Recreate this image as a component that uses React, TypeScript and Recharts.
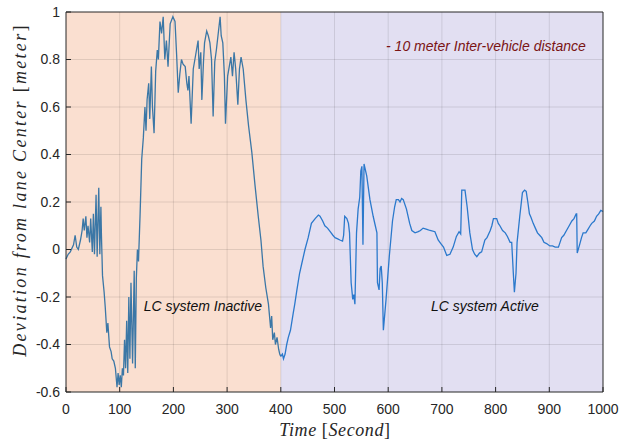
import React from 'react';
import { LineChart, Line, XAxis, YAxis, ReferenceArea, ReferenceLine, ReferenceDot } from 'recharts';

// LC system inactive (0 - 400 s)
const inactiveTime = [
	0, 4, 8, 10, 14, 17, 20, 23, 27, 30, 32, 34, 37, 39, 41, 44, 46, 49, 51, 53, 56, 58, 61, 63, 65, 66, 68, 71, 73, 76, 78, 81, 84, 86, 89, 92, 95, 97,
	99, 101, 103, 105, 107, 109, 111, 113, 115, 117, 119, 121, 124, 127, 129, 131, 133, 135, 138, 141, 144, 147, 149, 151, 154, 156, 159, 161, 164,
	167, 170, 172, 175, 178, 181, 184, 187, 190, 194, 199, 203, 206, 209, 212, 215, 218, 222, 225, 227, 229, 233, 237, 240, 243, 246, 248, 251, 253,
	256, 258, 262, 265, 268, 271, 274, 277, 280, 284, 287, 289, 292, 295, 297, 301, 304, 307, 310, 313, 316, 320, 323, 326, 330, 335, 340, 346, 352,
	358, 363, 367, 372, 377, 381, 383, 385, 388, 390, 393, 396, 398, 400,
];
const inactiveDev = [
	-0.04, -0.02, -0.01, 0.0, 0.02, 0.06, 0.01, 0.0, 0.04, 0.08, 0.13, 0.08, 0.14, 0.05, 0.1, 0.03, 0.13, -0.01, 0.15, -0.02, 0.23, -0.03, 0.26, -0.02,
	0.18, 0.06, -0.11, -0.18, -0.24, -0.35, -0.31, -0.41, -0.43, -0.46, -0.47, -0.5, -0.58, -0.52, -0.57, -0.53, -0.58, -0.5, -0.53, -0.38, -0.5, -0.3,
	-0.52, -0.2, -0.46, -0.14, -0.48, -0.09, -0.5, -0.12, 0.0, -0.05, 0.15, 0.38, 0.47, 0.6, 0.5, 0.63, 0.7, 0.55, 0.77, 0.6, 0.49, 0.75, 0.84, 0.8,
	0.96, 0.91, 0.98, 0.8, 0.88, 0.77, 0.95, 0.98, 0.96, 0.82, 0.66, 0.74, 0.8, 0.78, 0.77, 0.7, 0.67, 0.73, 0.53, 0.76, 0.8, 0.84, 0.88, 0.76, 0.83,
	0.63, 0.79, 0.87, 0.92, 0.9, 0.87, 0.8, 0.56, 0.79, 0.84, 0.92, 0.98, 0.9, 0.87, 0.73, 0.53, 0.73, 0.77, 0.81, 0.73, 0.83, 0.76, 0.61, 0.76, 0.81,
	0.76, 0.63, 0.52, 0.41, 0.27, 0.14, 0.04, -0.07, -0.16, -0.23, -0.33, -0.28, -0.38, -0.35, -0.4, -0.37, -0.42, -0.44, -0.45,
];

// LC system active (400 - 1000 s)
const activeTime = [
	400, 403, 405, 408, 411, 414, 418, 423, 426, 430, 435, 439, 445, 451, 457, 464, 470, 473, 478, 482, 487, 492, 497, 501, 506, 510, 515, 517, 519,
	523, 526, 528, 531, 534, 536, 538, 541, 544, 547, 549, 551, 553, 555, 560, 566, 572, 576, 579, 580, 583, 585, 587, 589, 591, 596, 602, 608, 612,
	615, 619, 622, 625, 628, 634, 640, 644, 650, 656, 660, 665, 672, 678, 687, 693, 698, 703, 709, 715, 721, 727, 732, 735, 737, 743, 747, 752, 757,
	761, 765, 770, 774, 780, 784, 786, 790, 793, 796, 802, 805, 808, 813, 818, 822, 827, 830, 833, 835, 838, 840, 845, 850, 854, 857, 860, 863, 866,
	870, 874, 878, 882, 886, 890, 895, 901, 906, 911, 917, 920, 923, 927, 932, 937, 942, 946, 950, 951, 952, 957, 960, 963, 968, 972, 976, 979, 984,
	988, 992, 996, 1000,
];
const activeDev = [
	-0.45, -0.44, -0.46, -0.44, -0.4, -0.37, -0.34, -0.27, -0.23, -0.17, -0.1, -0.06, 0.0, 0.05, 0.11, 0.13, 0.145, 0.14, 0.12, 0.1, 0.09, 0.075, 0.06,
	0.05, 0.045, 0.04, 0.035, 0.06, 0.14, 0.13, 0.11, 0.07, -0.14, -0.21, -0.19, -0.23, 0.07, 0.17, 0.22, 0.33, 0.35, 0.02, 0.36, 0.31, 0.21, 0.14, 0.1,
	0.07, -0.14, -0.17, -0.08, -0.07, -0.14, -0.34, -0.21, -0.03, 0.12, 0.18, 0.21, 0.21, 0.2, 0.215, 0.21, 0.17, 0.11, 0.08, 0.07, 0.075, 0.08, 0.09,
	0.085, 0.08, 0.075, 0.04, 0.025, 0.01, -0.025, -0.02, 0.01, 0.055, 0.075, 0.065, 0.25, 0.25, 0.18, 0.07, 0.0, -0.02, -0.03, -0.015, -0.01, 0.04,
	0.05, 0.06, 0.08, 0.1, 0.13, 0.13, 0.11, 0.1, 0.08, 0.07, 0.055, 0.03, 0.03, -0.1, -0.18, -0.1, 0.03, 0.14, 0.24, 0.25, 0.245, 0.2, 0.15, 0.135,
	0.11, 0.09, 0.07, 0.06, 0.05, 0.03, 0.025, 0.015, 0.015, 0.01, 0.01, 0.03, 0.05, 0.06, 0.08, 0.1, 0.12, 0.13, 0.15, 0.15, -0.015, 0.025, 0.05, 0.07,
	0.07, 0.085, 0.1, 0.11, 0.12, 0.14, 0.15, 0.165, 0.16,
];

const xTicks = [0, 100, 200, 300, 400, 500, 600, 700, 800, 900, 1000];
const yTicks = [-0.6, -0.4, -0.2, 0, 0.2, 0.4, 0.6, 0.8, 1];

const inactiveData = inactiveTime.map((t, i) => ({ t, dev: inactiveDev[i] }));
const activeData = activeTime.map((t, i) => ({ t, dev: activeDev[i] }));

const axisColor = '#262626';
const tickFont = { fontFamily: 'Liberation Sans, Arial, sans-serif', fontSize: 14, fill: '#262626' };
const noLabel = () => '';

const XLabel = () => (
	<text x={335} y={436} textAnchor='middle' fontFamily='Liberation Serif, serif' fontSize={18} letterSpacing={0.6} fill='#262626'>
		<tspan fontStyle='italic'>Time </tspan>
		<tspan>[</tspan>
		<tspan fontStyle='italic'>Second</tspan>
		<tspan>]</tspan>
	</text>
);

const YLabel = () => (
	<text x={26} y={190} transform='rotate(-90 26 190)' textAnchor='middle' fontFamily='Liberation Serif, serif' fontSize={18} letterSpacing={2.3} fill='#262626'>
		<tspan fontStyle='italic'>Deviation from lane Center </tspan>
		<tspan>[</tspan>
		<tspan fontStyle='italic'>meter</tspan>
		<tspan>]</tspan>
	</text>
);

export default function App() {
	return (
		<div style={{ position: 'absolute', left: 0, top: 0, width: 620, height: 444, background: '#fff' }}>
			<LineChart width={620} height={444} margin={{ top: 11, right: 16, left: 0, bottom: 0 }}>
				<XAxis
					xAxisId='main'
					dataKey='t'
					type='number'
					domain={[0, 1000]}
					ticks={xTicks}
					height={52}
					stroke={axisColor}
					tickSize={-5}
					tickMargin={17}
					tick={tickFont}
					label={<XLabel />}
				/>
				<XAxis xAxisId='top' orientation='top' dataKey='t' type='number' domain={[0, 1000]} ticks={xTicks} height={1} stroke={axisColor} tickSize={-5} tickFormatter={noLabel} />
				<YAxis
					yAxisId='main'
					type='number'
					domain={[-0.6, 1]}
					ticks={yTicks}
					width={66}
					stroke={axisColor}
					tickSize={-5}
					tickMargin={11}
					tick={tickFont}
					label={<YLabel />}
				/>
				<YAxis yAxisId='right' orientation='right' type='number' domain={[-0.6, 1]} ticks={yTicks} width={1} stroke={axisColor} tickSize={-5} tickFormatter={noLabel} />

				<ReferenceArea xAxisId='main' yAxisId='main' x1={0} x2={400} y1={-0.6} y2={1} fill='#fadfd0' fillOpacity={1} stroke='none' />
				<ReferenceArea xAxisId='main' yAxisId='main' x1={400} x2={1000} y1={-0.6} y2={1} fill='#e2dff2' fillOpacity={1} stroke='none' />

				{xTicks.slice(1, -1).map((v) => (
					<ReferenceLine key={'gx' + v} xAxisId='main' yAxisId='main' x={v} stroke='#000' strokeOpacity={0.1} />
				))}
				{yTicks.slice(1, -1).map((v) => (
					<ReferenceLine key={'gy' + v} xAxisId='main' yAxisId='main' y={v} stroke='#000' strokeOpacity={0.1} />
				))}

				<ReferenceDot
					xAxisId='main'
					yAxisId='main'
					x={255}
					y={-0.24}
					r={0}
					fill='none'
					stroke='none'
					label={{ value: 'LC system Inactive', position: 'center', fill: '#111', fontSize: 14, fontStyle: 'italic', fontFamily: 'Liberation Sans, Arial, sans-serif' }}
				/>
				<ReferenceDot
					xAxisId='main'
					yAxisId='main'
					x={780}
					y={-0.24}
					r={0}
					fill='none'
					stroke='none'
					label={{ value: 'LC system Active', position: 'center', fill: '#111', fontSize: 14, fontStyle: 'italic', fontFamily: 'Liberation Sans, Arial, sans-serif' }}
				/>
				<ReferenceDot
					xAxisId='main'
					yAxisId='main'
					x={782}
					y={0.857}
					r={0}
					fill='none'
					stroke='none'
					label={{ value: '- 10 meter Inter-vehicle distance', position: 'center', fill: '#7a1414', fontSize: 14, fontStyle: 'italic', fontFamily: 'Liberation Sans, Arial, sans-serif' }}
				/>

				<Line xAxisId='main' yAxisId='main' data={inactiveData} dataKey='dev' type='linear' stroke='#3b77a6' strokeWidth={1.3} dot={false} isAnimationActive={false} />
				<Line xAxisId='main' yAxisId='main' data={activeData} dataKey='dev' type='linear' stroke='#2b79cc' strokeWidth={1.3} dot={false} isAnimationActive={false} />
			</LineChart>
		</div>
	);
}
